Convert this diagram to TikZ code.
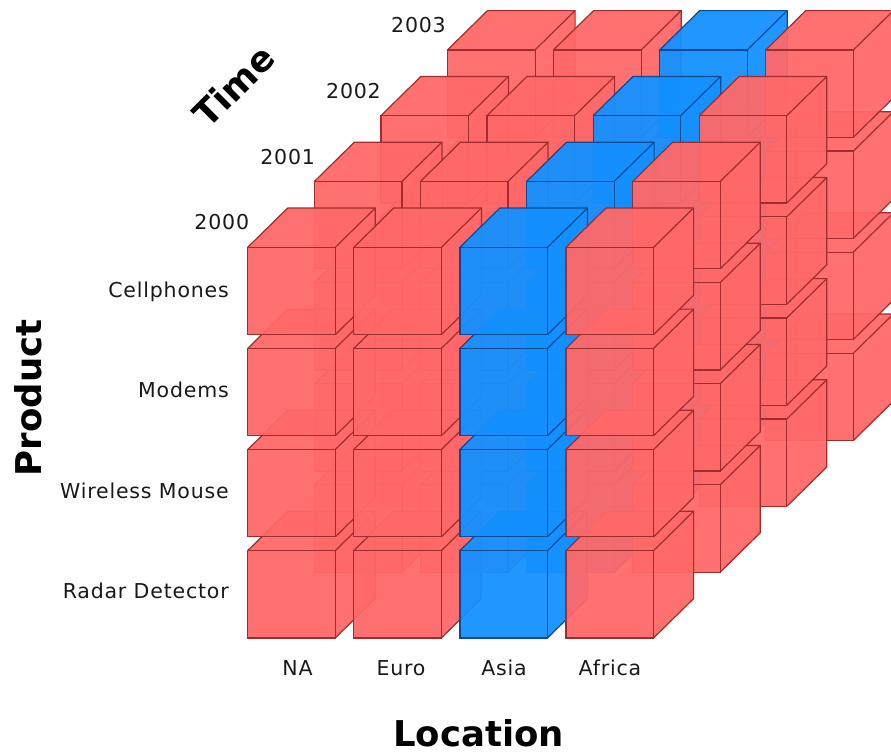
\documentclass[tikz,border=0pt]{standalone}
\usepackage{fontspec}
\setmainfont{DejaVu Sans}
\newfontfamily\labfont[LetterSpace=4]{DejaVu Sans}
\definecolor{cred}{RGB}{255,104,104}
\definecolor{cblue}{RGB}{20,145,255}
\definecolor{ered}{RGB}{160,45,45}
\definecolor{eblue}{RGB}{10,75,150}
\tikzset{
  facefill/.style={fill=cf, fill opacity=0.95},
  faceedge/.style={draw=ce, line width=1.2pt, line join=miter},
  smalllab/.style={font=\labfont\fontsize{20.5}{24}\selectfont, text=black!90, inner sep=0pt},
  biglab/.style={font=\bfseries\fontsize{35.5}{40}\selectfont, text=black, inner sep=0pt},
}
\begin{document}
\begin{tikzpicture}[x=1pt,y=-1pt]
\useasboundingbox (0,0) rectangle (891,753);
\clip (0,0) rectangle (891,753);
\def\W{87.6}\def\H{87.3}\def\DX{40}\def\DY{-39.3}
\foreach \L in {3,2,1,0}{
  \foreach \r in {3,2,1,0}{
    \foreach \c in {0,1,2,3}{
      \pgfmathsetmacro\X{247.7+106.1*\c+66.6*\L}
      \pgfmathsetmacro\Y{247.3+101.1*\r-65.8*\L}
      \ifnum\c=2 \colorlet{cf}{cblue}\colorlet{ce}{eblue}\else\colorlet{cf}{cred}\colorlet{ce}{ered}\fi
      \fill[facefill] (\X,\Y) rectangle ++(\W,\H);
      \fill[facefill] (\X,\Y) -- ++(\DX,\DY) -- ++(\W,0) -- ++(-\DX,-\DY) -- cycle;
      \fill[facefill] (\X+\W,\Y) -- ++(\DX,\DY) -- ++(0,\H) -- ++(-\DX,-\DY) -- cycle;
      \draw[faceedge] (\X,\Y) rectangle ++(\W,\H);
      \draw[faceedge] (\X,\Y) -- ++(\DX,\DY) -- ++(\W,0) -- ++(0,\H) -- ++(-\DX,-\DY);
      \draw[faceedge] (\X+\W,\Y) -- ++(\DX,\DY);
    }
  }
}
% year labels
\node[smalllab, anchor=east] (y2000) at (249.3,222.5) {2000};
\node[smalllab, anchor=east] (y2001) at (315.2,156.7) {2001};
\node[smalllab, anchor=east] (y2002) at (381,90.9) {2002};
\node[smalllab, anchor=east] (y2003) at (446,25) {2003};
% product labels
\node[smalllab, anchor=base east] (p1) at (229,297) {Cellphones};
\node[smalllab, anchor=base east] (p2) at (229,397.5) {Modems};
\node[smalllab, anchor=base east] (p3) at (229,498.5) {Wireless Mouse};
\node[smalllab, anchor=base east] (p4) at (229,598.5) {Radar Detector};
% location labels
\node[smalllab, anchor=base] (l1) at (297.5,675) {NA};
\node[smalllab, anchor=base] (l2) at (401,675) {Euro};
\node[smalllab, anchor=base] (l3) at (504,675) {Asia};
\node[smalllab, anchor=base] (l4) at (610,675) {Africa};
% dimension titles
\node[biglab, rotate=45] (time) at (233.5,86) {Time};
\node[biglab, rotate=90] (product) at (28.5,398) {Product};
\node[biglab, anchor=base] (location) at (478.7,746) {Location};
\end{tikzpicture}
\end{document}
